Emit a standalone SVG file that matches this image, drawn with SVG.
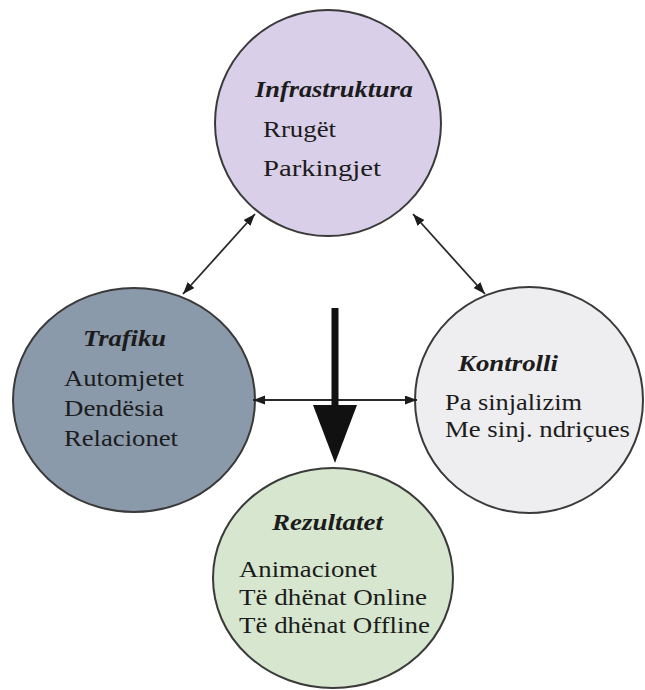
<svg xmlns="http://www.w3.org/2000/svg" width="645" height="690" viewBox="0 0 645 690">
<style>
.node ellipse{stroke:#3a3a3a;stroke-width:2}
.node text{font-family:Liberation Serif, serif;font-size:24px;fill:#1c1c1c}
.title{font-weight:bold;font-style:italic}
.conn line{stroke:#2a2a2a;stroke-width:1.8}
</style>
<defs>
<marker id="ah" markerUnits="userSpaceOnUse" markerWidth="14" markerHeight="10" refX="12" refY="4.5" orient="auto-start-reverse">
<path d="M0,0 L12,4.5 L0,9 z" fill="#1c1c1c"/>
</marker>
</defs>
<rect width="645" height="690" fill="#ffffff"/>
<g id="node-infrastruktura" class="node">
<ellipse cx="328" cy="123" rx="113" ry="113" fill="#d9cfe8"/>
<text class="title" x="255" y="97" textLength="158" lengthAdjust="spacingAndGlyphs">Infrastruktura</text>
<text x="263" y="137" textLength="73" lengthAdjust="spacingAndGlyphs">Rrugët</text>
<text x="263" y="176" textLength="118" lengthAdjust="spacingAndGlyphs">Parkingjet</text>
</g>
<g id="node-trafiku" class="node">
<ellipse cx="134" cy="400" rx="121" ry="112" fill="#8a9aab"/>
<text class="title" x="83" y="346" textLength="83" lengthAdjust="spacingAndGlyphs">Trafiku</text>
<text x="64" y="386" textLength="120" lengthAdjust="spacingAndGlyphs">Automjetet</text>
<text x="64" y="416" textLength="100" lengthAdjust="spacingAndGlyphs">Dendësia</text>
<text x="64" y="446" textLength="114" lengthAdjust="spacingAndGlyphs">Relacionet</text>
</g>
<g id="node-kontrolli" class="node">
<ellipse cx="529" cy="400" rx="114" ry="113" fill="#eeedef"/>
<text class="title" x="458" y="371" textLength="100" lengthAdjust="spacingAndGlyphs">Kontrolli</text>
<text x="445" y="410" textLength="137" lengthAdjust="spacingAndGlyphs">Pa sinjalizim</text>
<text x="445" y="437" textLength="185" lengthAdjust="spacingAndGlyphs">Me sinj. ndriçues</text>
</g>
<g id="node-rezultatet" class="node">
<ellipse cx="333" cy="578" rx="120" ry="110" fill="#d7e7cf"/>
<text class="title" x="272" y="530" textLength="111" lengthAdjust="spacingAndGlyphs">Rezultatet</text>
<text x="239" y="577" textLength="138" lengthAdjust="spacingAndGlyphs">Animacionet</text>
<text x="239" y="605" textLength="188" lengthAdjust="spacingAndGlyphs">Të dhënat Online</text>
<text x="239" y="633" textLength="191" lengthAdjust="spacingAndGlyphs">Të dhënat Offline</text>
</g>
<g id="connectors" class="conn">
<line x1="183" y1="294" x2="255" y2="214" marker-start="url(#ah)" marker-end="url(#ah)"/>
<line x1="413" y1="214" x2="485" y2="294" marker-start="url(#ah)" marker-end="url(#ah)"/>
<line x1="253" y1="400" x2="417" y2="400" marker-start="url(#ah)" marker-end="url(#ah)"/>
<line x1="335" y1="308" x2="335" y2="410" style="stroke:#111;stroke-width:7"/>
<path d="M313,405 L357,405 L335,463 z" fill="#111"/>
</g>
</svg>
